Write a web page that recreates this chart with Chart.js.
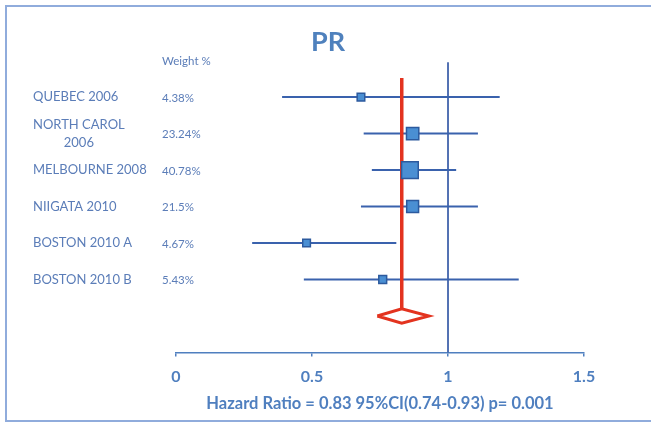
<!DOCTYPE html>
<html>
<head>
<meta charset="utf-8">
<script src="https://cdn.jsdelivr.net/npm/chart.js@4"></script>
<style>
  html, body { margin: 0; padding: 0; background: #fff; overflow: hidden; }
  #wrap { position: relative; width: 651px; height: 423px; }
  #frame { position: absolute; left: 5px; top: 5px; width: 700px; height: 413px; border: 2px solid #90acdc; pointer-events: none; }
</style>
</head>
<body>
<div id="wrap">
  <canvas id="forest"></canvas>
  <div id="frame"></div>
</div>
<script>
// study rows, top to bottom
const studies = ['QUEBEC 2006', ['NORTH CAROL', '2006'], 'MELBOURNE 2008', 'NIIGATA 2010', 'BOSTON 2010 A', 'BOSTON 2010 B'];
const weights = [4.38, 23.24, 40.78, 21.5, 4.67, 5.43];
const hazard = [0.68, 0.87, 0.86, 0.87, 0.48, 0.76];
const ciLow  = [0.39, 0.69, 0.72, 0.68, 0.28, 0.47];
const ciHigh = [1.19, 1.11, 1.03, 1.11, 0.81, 1.26];

// pooled estimate
const pooled = { hr: 0.83, low: 0.74, high: 0.93 };
const xTicks = [0, 0.5, 1, 1.5];
const axisTitle = 'Hazard Ratio = 0.83 95%CI(0.74-0.93) p= 0.001';

const BLUE = '#4f7fbf';
const LABEL = '#5b7db8';
const RED = '#e3331f';
const FONT = 'Lato, "Open Sans", sans-serif';

const pooledRow = studies.length;          // diamond sits one row below last study
const side = w => 6.5 + 0.25 * w;          // square size grows with weight

const whiskers = studies.map((s, i) => ({
  type: 'line',
  data: [{ x: ciLow[i], y: i }, { x: ciHigh[i], y: i }],
  borderColor: '#3a62ad',
  borderWidth: 2,
  pointRadius: 0,
  order: 3
}));

const datasets = [
  {
    type: 'line',
    label: 'no effect',
    data: [{ x: 1, y: -0.95 }, { x: 1, y: pooledRow + 1 }],
    borderColor: '#3d5fa8',
    borderWidth: 1,
    pointRadius: 0,
    order: 4
  },
  ...whiskers,
  {
    type: 'line',
    label: 'pooled line',
    data: [{ x: pooled.hr, y: -0.52 }, { x: pooled.hr, y: pooledRow - 0.2 }],
    borderColor: RED,
    borderWidth: 3.5,
    pointRadius: 0,
    order: 2
  },
  {
    type: 'line',
    label: 'pooled diamond',
    data: [
      { x: pooled.low, y: pooledRow },
      { x: pooled.hr, y: pooledRow - 0.2 },
      { x: pooled.high, y: pooledRow },
      { x: pooled.hr, y: pooledRow + 0.2 },
      { x: pooled.low, y: pooledRow }
    ],
    borderColor: RED,
    borderWidth: 3,
    borderJoinStyle: 'miter',
    fill: false,
    pointRadius: 0,
    order: 2
  },
  {
    type: 'scatter',
    label: 'HR',
    data: hazard.map((h, i) => ({ x: h, y: i })),
    pointStyle: 'rect',
    pointRadius: weights.map(w => side(w) / Math.SQRT2),
    backgroundColor: '#4a8fd3',
    borderColor: '#2c5a9e',
    borderWidth: 1.5,
    order: 1
  }
];

// study names, weights and the "PR" heading
const textPlugin = {
  id: 'forestText',
  afterDraw(chart) {
    const ctx = chart.ctx;
    const y = chart.scales.y;
    ctx.save();
    ctx.fillStyle = '#4f81bd';
    ctx.font = 'bold 27px ' + FONT;
    ctx.textAlign = 'center';
    ctx.textBaseline = 'middle';
    ctx.fillText('PR', 328, 42);

    ctx.fillStyle = LABEL;
    ctx.font = '11.5px ' + FONT;
    ctx.textAlign = 'left';
    ctx.fillText('Weight %', 162, y.getPixelForValue(-1) + 1);

    studies.forEach((s, i) => {
      const py = y.getPixelForValue(i);
      ctx.font = '13px ' + FONT;
      if (Array.isArray(s)) {
        const cx = 33 + ctx.measureText(s[0]).width / 2;
        ctx.textAlign = 'center';
        s.forEach((line, k) => ctx.fillText(line, cx, py - 9 + k * 18));
      } else {
        ctx.textAlign = 'left';
        ctx.fillText(s, 33, py);
      }
      ctx.textAlign = 'left';
      ctx.font = '11.5px ' + FONT;
      ctx.fillText(weights[i] + '%', 162, py + 1);
    });
    ctx.restore();
  }
};

new Chart(document.getElementById('forest'), {
  data: { datasets },
  options: {
    responsive: true,
    maintainAspectRatio: false,
    animation: false,
    layout: { padding: { left: 176, right: 67, top: 60.6, bottom: 9.5 } },
    plugins: { legend: { display: false }, tooltip: { enabled: false } },
    scales: {
      x: {
        type: 'linear',
        min: 0,
        max: 1.5,
        afterBuildTicks: s => { s.ticks = xTicks.map(v => ({ value: v })); },
        grid: { drawOnChartArea: false, color: BLUE, tickLength: 4, lineWidth: 1.5 },
        border: { display: true, color: BLUE, width: 1.5 },
        ticks: {
          color: BLUE,
          font: { family: FONT, size: 16, weight: 'bold' },
          padding: 11,
          callback: v => String(v)
        },
        title: {
          display: true,
          text: axisTitle,
          color: BLUE,
          font: { family: FONT, size: 16.5, weight: 'bold' },
          padding: { top: -4, bottom: 0 }
        }
      },
      y: {
        type: 'linear',
        display: false,
        reverse: true,
        min: -1,
        max: pooledRow + 1
      }
    }
  },
  plugins: [textPlugin]
});
</script>
</body>
</html>
